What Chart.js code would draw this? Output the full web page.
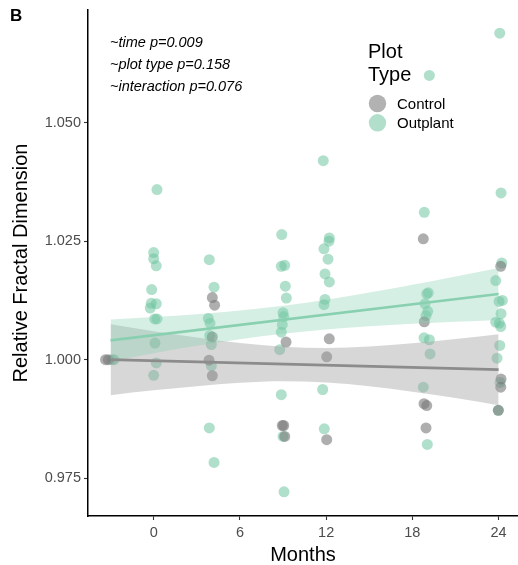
<!DOCTYPE html>
<html>
<head>
<meta charset="utf-8">
<script src="https://cdn.jsdelivr.net/npm/chart.js@4"></script>
<style>
  html, body { margin: 0; padding: 0; background: #fff; overflow: hidden; }
  #wrap { position: relative; width: 518px; height: 565px; }
</style>
</head>
<body>
<div id="wrap"><canvas id="fractalChart"></canvas></div>
<script>
const controlMonths = [-3.35, -3.15, 4.08, 4.24, 4.08, 3.85, 4.08, 9.21, 8.95, 9.05, 9.12,
  12.22, 12.04, 12.04, 18.76, 18.83, 18.81, 19.0, 18.95, 24.15, 24.17, 24.15, 23.98];
const controlValues = [1.000, 1.000, 1.0131, 1.0115, 1.0048, 0.9999, 0.9966, 1.0037, 0.9861, 0.9861, 0.9838,
  1.0044, 1.0006, 0.9831, 1.0255, 1.0080, 0.9907, 0.9903, 0.9856, 1.0197, 0.9959, 0.9942, 0.9893];

const outplantMonths = [-2.9, -2.75,
  0.23, 0.0, 0.0, 0.18, -0.14, -0.17, 0.18, -0.24, 0.07, 0.23, 0.09, 0.18, 0.0,
  3.87, 4.20, 3.80, 3.92, 3.90, 4.01, 4.01, 3.87, 4.20,
  8.91, 9.12, 8.88, 9.16, 9.23, 9.0, 9.05, 8.95, 8.88, 8.77, 8.88, 9.0, 9.07,
  11.80, 12.22, 12.20, 11.85, 12.13, 11.92, 12.22, 11.92, 11.85, 11.76, 11.87,
  19.18, 18.83, 19.11, 19.0, 18.88, 19.07, 18.95, 18.81, 19.18, 19.23, 18.76, 19.04,
  24.08, 24.17, 24.22, 23.80, 24.03, 24.26, 24.17, 23.80, 24.05, 24.15, 24.08, 23.89, 24.10, 23.98];
const outplantValues = [1.000, 1.000,
  1.0359, 1.0226, 1.0213, 1.0198, 1.0148, 1.0119, 1.0118, 1.0109, 1.0086, 1.0086, 1.0035, 0.9993, 0.9967,
  1.0211, 1.0153, 1.0087, 1.0077, 1.0051, 1.0032, 0.9987, 0.9856, 0.9783,
  1.0264, 1.0199, 1.0197, 1.0155, 1.0130, 1.0099, 1.0091, 1.0074, 1.0058, 1.0021, 0.9926, 0.9838, 0.9721,
  1.0420, 1.0257, 1.0250, 1.0234, 1.0212, 1.0181, 1.0164, 1.0127, 1.0116, 0.9937, 0.9854,
  1.0600, 1.0311, 1.0141, 1.0139, 1.0118, 1.0102, 1.0093, 1.0046, 1.0042, 1.0012, 0.9942, 0.9821,
  1.0689, 1.0352, 1.0204, 1.0167, 1.0123, 1.0125, 1.0097, 1.0079, 1.0077, 1.0070, 1.0030, 1.0003, 0.9952, 0.9893];

// fitted lines and their confidence bands
const fitMonths = [-3, 24];
const controlFit = [1.0000, 0.99789];
const outplantFit = [1.00407, 1.01386];

const bandMonths = [-3, 0, 3, 6, 9, 12, 15, 18, 21, 24];
const controlUpper = [1.00749, 1.00601, 1.00466, 1.00350, 1.00272, 1.00247, 1.00278, 1.00348, 1.00437, 1.00538];
const controlLower = [0.99251, 0.99352, 0.99441, 0.99511, 0.99542, 0.99517, 0.99439, 0.99323, 0.99188, 0.99040];
const outplantUpper = [1.00850, 1.00899, 1.00958, 1.01036, 1.01137, 1.01266, 1.01416, 1.01580, 1.01753, 1.01935];
const outplantLower = [0.99964, 1.00135, 1.00291, 1.00430, 1.00546, 1.00637, 1.00703, 1.00757, 1.00800, 1.00838];

const xTicks = [0, 6, 12, 18, 24];
const yTicks = [0.975, 1.000, 1.025, 1.050];
const notes = ['~time p=0.009', '~plot type p=0.158', '~interaction p=0.076'];

const FONT = '"Liberation Sans", Arial, sans-serif';
const GREEN_PT = 'rgba(112,196,160,0.55)';
const GRAY_PT = 'rgba(120,120,120,0.6)';

const pts = (xs, ys) => xs.map((x, i) => ({ x: x, y: ys[i] }));

const textPlugin = {
  id: 'texts',
  afterDraw(chart) {
    const c = chart.ctx;
    const a = chart.chartArea;
    c.save();
    c.fillStyle = '#000';
    c.textBaseline = 'alphabetic';

    c.font = 'bold 17px ' + FONT;
    c.textAlign = 'left';
    c.fillText('B', 10, 21);

    c.font = 'italic 14.5px ' + FONT;
    notes.forEach((t, i) => c.fillText(t, 110, 47 + i * 22));

    // legend
    c.font = '20px ' + FONT;
    c.fillText('Plot', 368, 58);
    c.fillText('Type', 368, 81);
    [['Control', 'rgb(178,178,178)'], ['Outplant', 'rgb(178,223,203)']].forEach((it, i) => {
      c.fillStyle = it[1];
      c.beginPath();
      c.arc(377.5, 103.5 + i * 19.3, 8.7, 0, Math.PI * 2);
      c.fill();
      c.fillStyle = '#000';
      c.font = '15px ' + FONT;
      c.fillText(it[0], 397, 109 + i * 19.3);
    });

    // axis titles
    c.font = '20px ' + FONT;
    c.textAlign = 'center';
    c.fillText('Months', (a.left + a.right) / 2, 561);
    c.translate(27, (a.top + a.bottom) / 2);
    c.rotate(-Math.PI / 2);
    c.fillText('Relative Fractal Dimension', 0, 0);
    c.restore();
  }
};

const axisCommon = {
  grid: { drawOnChartArea: false, tickLength: 4, color: '#333', tickWidth: 1.1 },
  border: { color: '#000', width: 1.5 },
  ticks: { color: '#4d4d4d', font: { family: FONT, size: 14.5 }, padding: 3 }
};

new Chart(document.getElementById('fractalChart'), {
  type: 'scatter',
  data: {
    datasets: [
      { type: 'line', data: pts(bandMonths, controlUpper), fill: '+1', backgroundColor: 'rgba(160,160,160,0.42)',
        borderWidth: 0, pointRadius: 0, cubicInterpolationMode: 'monotone', order: 3 },
      { type: 'line', data: pts(bandMonths, controlLower), fill: false,
        borderWidth: 0, pointRadius: 0, cubicInterpolationMode: 'monotone', order: 3 },
      { type: 'line', data: pts(bandMonths, outplantUpper), fill: '+1', backgroundColor: 'rgba(130,205,172,0.33)',
        borderWidth: 0, pointRadius: 0, cubicInterpolationMode: 'monotone', order: 2 },
      { type: 'line', data: pts(bandMonths, outplantLower), fill: false,
        borderWidth: 0, pointRadius: 0, cubicInterpolationMode: 'monotone', order: 2 },
      { type: 'line', data: pts(fitMonths, controlFit), borderColor: '#8c8c8c', borderWidth: 2.6,
        pointRadius: 0, fill: false, order: 1 },
      { type: 'line', data: pts(fitMonths, outplantFit), borderColor: 'rgb(137,208,177)', borderWidth: 2.6,
        pointRadius: 0, fill: false, order: 1 },
      { label: 'Control', data: pts(controlMonths, controlValues), backgroundColor: GRAY_PT,
        borderWidth: 0, pointRadius: 5.5, order: 4 },
      { label: 'Outplant', data: pts(outplantMonths, outplantValues), backgroundColor: GREEN_PT,
        borderWidth: 0, pointRadius: 5.5, order: 4 }
    ]
  },
  options: {
    responsive: true,
    maintainAspectRatio: false,
    animation: false,
    events: [],
    layout: { autoPadding: false, padding: { top: 10, right: 0, left: 0, bottom: 0 } },
    plugins: { legend: { display: false }, tooltip: { enabled: false } },
    scales: {
      x: {
        ...axisCommon,
        type: 'linear', min: -4.57, max: 25.35,
        afterBuildTicks: s => { s.ticks = xTicks.map(v => ({ value: v })); },
        afterFit: s => { s.height = 49; s.paddingLeft = 0; s.paddingRight = 0; },
        ticks: { ...axisCommon.ticks, padding: 4 }
      },
      y: {
        ...axisCommon,
        min: 0.967, max: 1.0738,
        afterBuildTicks: s => { s.ticks = yTicks.map(v => ({ value: v })); },
        afterFit: s => { s.width = 88; s.paddingTop = 0; s.paddingBottom = 0; },
        ticks: { ...axisCommon.ticks, callback: v => v.toFixed(3) }
      }
    }
  },
  plugins: [textPlugin]
});
</script>
</body>
</html>
